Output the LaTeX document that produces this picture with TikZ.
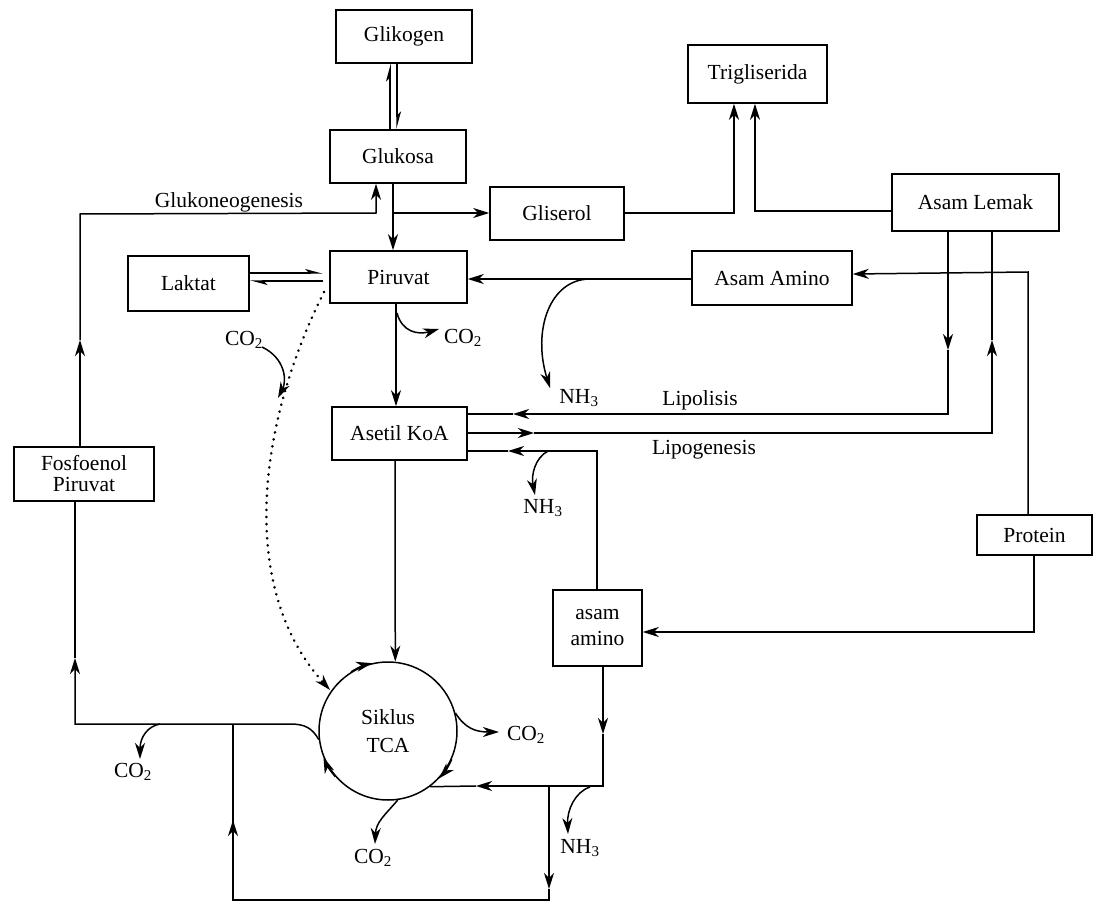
\documentclass[tikz,border=0pt]{standalone}
\usepackage{fontspec}
\setmainfont{Liberation Serif}
\usetikzlibrary{arrows.meta}
\begin{document}
\begin{tikzpicture}[x=1pt,y=-1pt,
  every node/.style={font=\fontsize{21.5}{24}\selectfont},
  box/.style={draw, line width=1.5pt, inner sep=0pt, align=center},
  ln/.style={line width=1.5pt},
  arr/.style={ln, -{Stealth[length=16pt,width=10pt,inset=5pt]}},
  harp/.style={ln, -{Stealth[harpoon,length=15pt,width=8pt,inset=4pt]}},
  lbl/.style={inner sep=0pt}]
\useasboundingbox (0,0) rectangle (1098,904);
% boxes
\node[box,minimum width=136pt,minimum height=53pt] (glik) at (404,36.5) {Glikogen};
\node[box,minimum width=136pt,minimum height=53pt] (gluk) at (398,156.5) {Glukosa};
\node[box,minimum width=134pt,minimum height=53pt] (glis) at (557,213.5) {Gliserol};
\node[box,minimum width=139pt,minimum height=58pt] (trig) at (757.5,74) {Trigliserida};
\node[box,minimum width=167pt,minimum height=57pt] (alem) at (975.5,202.5) {Asam Lemak};
\node[box,minimum width=137pt,minimum height=52pt] (piru) at (398.5,277) {Piruvat};
\node[box,minimum width=121pt,minimum height=55pt] (lakt) at (188.5,283.5) {Laktat};
\node[box,minimum width=160pt,minimum height=54pt] (aami) at (772,278) {Asam Amino};
\node[box,minimum width=135pt,minimum height=53pt] (akoa) at (399.5,433.5) {Asetil KoA};
\node[box,minimum width=140pt,minimum height=54pt] (fosf) at (84,474) {Fosfoenol\\[-3pt]Piruvat};
\node[box,minimum width=115pt,minimum height=40pt] (prot) at (1034.5,535) {Protein};
\node[box,minimum width=89pt,minimum height=76pt] (aam2) at (597.5,628) {asam\\[2pt]amino};
\node[draw,circle,line width=1.5pt,minimum size=138pt,inner sep=0pt,align=center] (tca) at (388,731) {Siklus\\[4pt]TCA};
% labels
\node[lbl] (lglu) at (229,202) {Glukoneogenesis};
\node[lbl] (llip) at (700,400) {Lipolisis};
\node[lbl] (llig) at (704,450) {Lipogenesis};
\node[lbl] (c1) at (463,338) {CO\textsubscript{2}};
\node[lbl] (c2) at (244,340) {CO\textsubscript{2}};
\node[lbl] (c3) at (526,735) {CO\textsubscript{2}};
\node[lbl] (c4) at (373,858) {CO\textsubscript{2}};
\node[lbl] (c5) at (133,772) {CO\textsubscript{2}};
\node[lbl] (n1) at (579,398) {NH\textsubscript{3}};
\node[lbl] (n2) at (543,508) {NH\textsubscript{3}};
\node[lbl] (n3) at (580,848) {NH\textsubscript{3}};
% glikogen <-> glukosa
\draw[harp] (390,0 |- gluk.north) -- (390,0 |- glik.south);
\draw[harp] (397,0 |- glik.south) -- (397,0 |- gluk.north);
% glukosa -> piruvat, gliserol
\coordinate (j1) at (393,213);
\draw[arr] (393,0 |- gluk.south) -- (393,0 |- piru.north);
\draw[arr] (j1) -- (glis.west |- j1);
% glukoneogenesis
\draw[arr] (80,0 |- fosf.north) -- (80,340);
\draw[arr] (80,340) -- (80,214) -- (376,213) -- (376,0 |- gluk.south);
% gliserol, asam lemak -> trigliserida
\draw[arr] (glis.east |- 0,213) -- (734,213) -- (734,0 |- trig.south);
\draw[arr] (alem.west |- 0,211) -- (755,211) -- (755,0 |- trig.south);
% laktat <-> piruvat
\draw[harp] (lakt.east |- 0,273) -- (323,273);
\draw[harp] (323,281) -- (lakt.east |- 0,281);
% asam amino -> piruvat
\draw[arr] (aami.west |- 0,279) -- (piru.east |- 0,279);
\draw[arr] (590,279) .. controls (550,279) and (532,330) .. (550,388);
% protein -> asam amino
\draw[arr] (1028,0 |- prot.north) -- (1028,272) -- (aami.east |- 0,274);
\draw[arr] (1034,0 |- prot.south) -- (1034,632) -- (aam2.east |- 0,632);
% piruvat -> asetil koa
\draw[arr] (396,0 |- piru.south) -- (396,0 |- akoa.north);
\draw[arr] (397,313) .. controls (402,332) and (418,335) .. (439,329);
% CO2 fixation
\draw[arr] (262,347) .. controls (285,358) and (287,380) .. (278,398);
\draw[line width=2.8pt, line cap=round, dash pattern=on 0.1pt off 7pt, -{Stealth[length=16pt,width=10pt,inset=5pt,line width=1.5pt]}] (324,292) .. controls (255,430) and (240,590) .. (330,690);
% lipolisis
\draw[arr] (948,0 |- alem.south) -- (948,350);
\draw[arr] (948,350) -- (948,414) -- (513,414);
\draw[ln] (513,414) -- (akoa.east |- 0,414);
% lipogenesis
\draw[arr] (akoa.east |- 0,433) -- (534,433);
\draw[arr] (534,433) -- (992,433) -- (992,340);
\draw[ln] (992,340) -- (992,0 |- alem.south);
% asam amino -> asetil koa
\draw[arr] (597,0 |- aam2.north) -- (597,451) -- (508,451);
\draw[ln] (508,451) -- (akoa.east |- 0,451);
\draw[arr] (548,451) .. controls (535,458) and (531,475) .. (535,495);
% asetil koa -> TCA
\draw[arr] (395,0 |- akoa.south) -- (tca.84);
% asam amino -> TCA
\draw[arr] (603,0 |- aam2.south) -- (603,734);
\draw[arr] (603,734) -- (603,786) -- (476,786);
\draw[ln] (476,786) -- (tca.-53);
\draw[arr] (590,787) .. controls (575,792) and (567,810) .. (568,834);
% bottom loop
\draw[arr] (549,786) -- (549,889);
\draw[ln] (549,889) -- (549,900) -- (233,900) -- (233,820);
\draw[arr] (233,900) -- (233,820);
\draw[ln] (233,820) -- (233,724);
% TCA -> fosfoenol piruvat
\draw[arr] (tca.187) .. controls (312,728) and (305,724) .. (290,724) -- (75,724) -- (75,658);
\draw[ln] (75,658) -- (75,0 |- fosf.south);
\draw[arr] (160,724) .. controls (148,726) and (140,737) .. (140,759);
% TCA circle arrows
\draw[arr] (tca.122) arc[start angle=-122, end angle=-103, radius=69];
\draw[arr] (tca.-24) arc[start angle=24, end angle=43, radius=69];
\draw[arr] (tca.221) arc[start angle=-221, end angle=-202, radius=69];
% TCA -> CO2
\draw[arr] (tca.15) .. controls (465,728) and (475,732) .. (499,732);
\draw[arr] (tca.-82) .. controls (385,815) and (376,822) .. (375,844);
\end{tikzpicture}
\end{document}
